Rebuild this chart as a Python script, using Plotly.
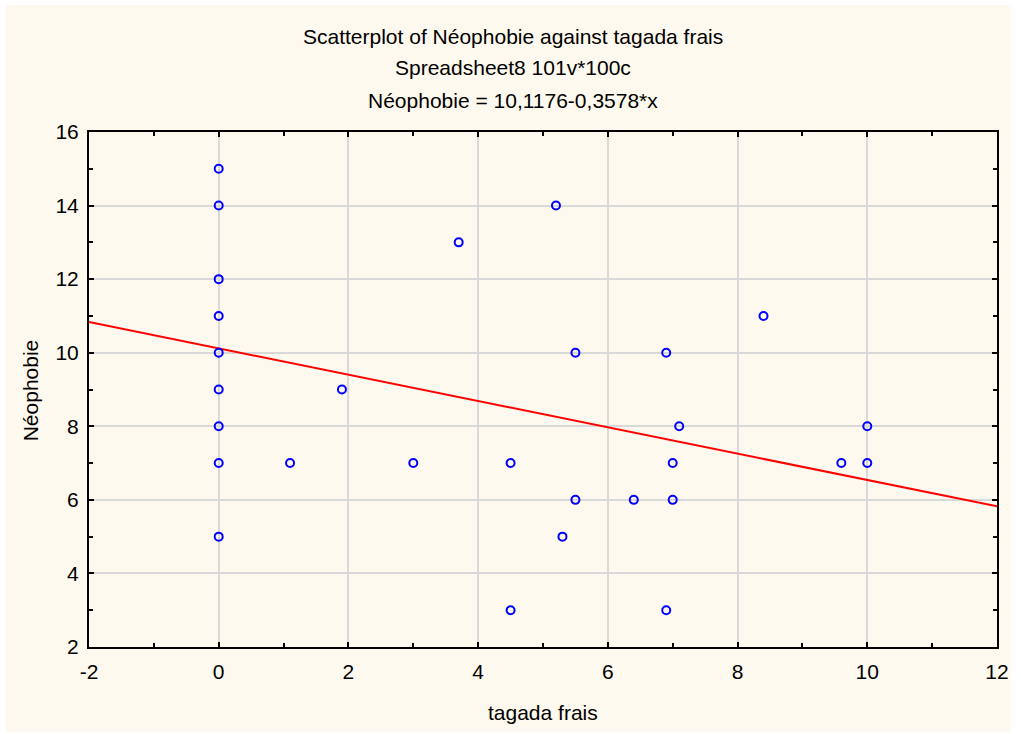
import plotly.graph_objects as go

# Data
tagada_frais = [0, 0, 0, 0, 0, 0, 0, 0, 0,
                1.1, 1.9, 3.0, 3.7, 4.5, 4.5, 5.2, 5.5, 5.5, 5.3,
                6.4, 6.9, 6.9, 7.0, 7.0, 7.1, 8.4, 9.6, 10.0, 10.0]
neophobie = [15, 14, 12, 11, 10, 9, 8, 7, 5,
             7, 9, 7, 13, 7, 3, 14, 10, 6, 5,
             6, 10, 3, 7, 6, 8, 11, 7, 8, 7]
intercept = 10.1176
slope = -0.3578
line_x = [-2, 12]
line_y = [intercept + slope * v for v in line_x]

x_tick_vals = [-2, 0, 2, 4, 6, 8, 10, 12]
x_tick_text = ["-2", "0", "2", "4", "6", "8", "10", "12"]
y_tick_vals = [2, 4, 6, 8, 10, 12, 14, 16]
y_tick_text = ["2", "4", "6", "8", "10", "12", "14", "16"]

title_lines = ["Scatterplot of Néophobie against tagada frais",
               "Spreadsheet8 101v*100c",
               "Néophobie = 10,1176-0,3578*x"]
x_title = "tagada frais"
y_title = "Néophobie"

W, H = 1021, 734
ml, mr, mt, mb = 89, 19, 132, 87
pw, ph = W - ml - mr, H - mt - mb

def px2x(p):
    return (p - ml) / pw

def py2y(p):
    return 1 - (p - mt) / ph

fig = go.Figure()
fig.add_trace(go.Scatter(x=line_x, y=line_y, mode="lines",
                         line=dict(color="#FF0000", width=2),
                         hoverinfo="skip", showlegend=False))
fig.add_trace(go.Scatter(x=tagada_frais, y=neophobie, mode="markers",
                         marker=dict(symbol="circle-open", size=8,
                                     color="#0000FF",
                                     line=dict(color="#0000FF", width=2)),
                         showlegend=False))

font = dict(family="Liberation Sans, Arial, sans-serif", size=21, color="black")

annotations = []
for i, t in enumerate(title_lines):
    annotations.append(dict(text=t, x=px2x(515), y=py2y(36 + i * 32),
                            xref="paper", yref="paper", showarrow=False,
                            xanchor="center", yanchor="middle", font=font))
annotations.append(dict(text=x_title, x=px2x(545), y=py2y(712),
                        xref="paper", yref="paper", showarrow=False,
                        xanchor="center", yanchor="middle", font=font))
annotations.append(dict(text=y_title, x=px2x(30), y=py2y(390),
                        xref="paper", yref="paper", showarrow=False,
                        xanchor="center", yanchor="middle", textangle=-90,
                        font=font))

axis_common = dict(showline=True, linecolor="black", linewidth=2, mirror="ticks",
                   ticks="inside", ticklen=5, tickwidth=1.5, tickcolor="black",
                   showgrid=True, gridcolor="#D9D9D9", gridwidth=1.5,
                   zeroline=False, tickfont=font,
                   minor=dict(ticks="inside", ticklen=4, tickwidth=1.5,
                              tickcolor="black", dtick=1, showgrid=False))

fig.update_layout(
    width=W, height=H,
    margin=dict(l=ml, r=mr, t=mt, b=mb),
    paper_bgcolor="white",
    plot_bgcolor="white",
    font=font,
    xaxis=dict(range=[-2, 12], tickmode="array", tickvals=x_tick_vals,
               ticktext=x_tick_text, ticklabelstandoff=5, **axis_common),
    yaxis=dict(range=[2, 16], tickmode="array", tickvals=y_tick_vals,
               ticktext=y_tick_text, ticklabelstandoff=4, **axis_common),
    annotations=annotations,
    shapes=[dict(type="rect", xref="paper", yref="paper",
                 x0=px2x(5), x1=px2x(1016), y0=py2y(5), y1=py2y(732),
                 fillcolor="#FEF9EE", line=dict(width=0), layer="below")],
)

fig.write_html("out.html", config={"displayModeBar": False},
               post_script="document.body.style.margin='0';")
